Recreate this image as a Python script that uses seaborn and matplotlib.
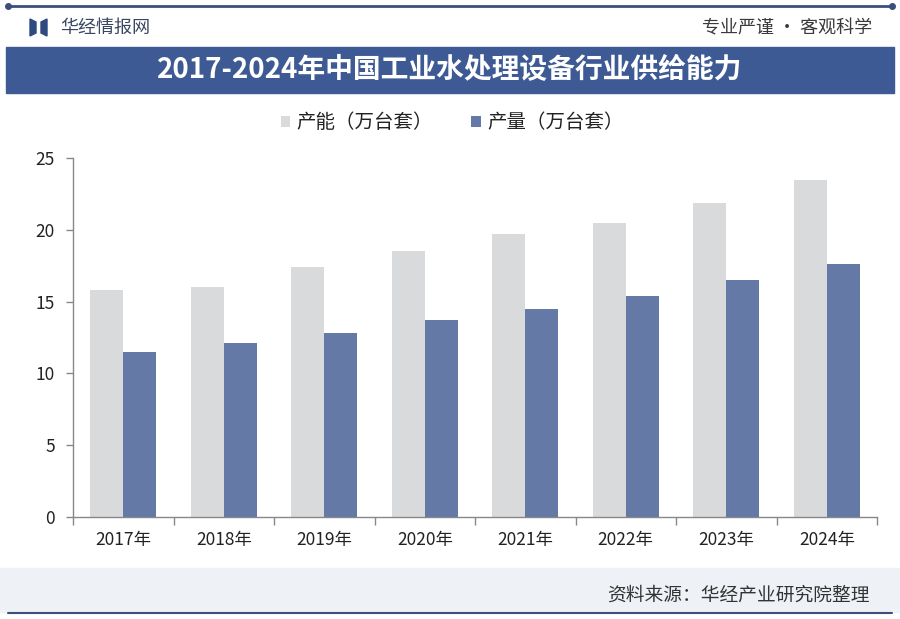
import numpy as np
import pandas as pd
import seaborn as sns
import matplotlib.pyplot as plt
from matplotlib.patches import Rectangle, Polygon
from matplotlib.lines import Line2D

years = ["2017年", "2018年", "2019年", "2020年", "2021年", "2022年", "2023年", "2024年"]
capacity = [15.8, 16.0, 17.4, 18.5, 19.7, 20.5, 21.9, 23.5]
output = [11.5, 12.1, 12.8, 13.7, 14.5, 15.4, 16.5, 17.6]
series_names = ["产能（万台套）", "产量（万台套）"]
colors = ["#d9dadc", "#6479a5"]

sns.set_theme(style="white")
plt.rcParams['font.family'] = ['Noto Sans CJK SC', 'DejaVu Sans']

df = pd.DataFrame({
    "year": years * 2,
    "value": capacity + output,
    "series": [series_names[0]] * len(years) + [series_names[1]] * len(years),
})

W, H = 900, 619
fig = plt.figure(figsize=(9, 6.19), dpi=100)
fig.patch.set_facecolor("white")


def fx(px):
    return px / W


def fy(py):
    return 1 - py / H


# top thin line with end dots
fig.add_artist(Line2D([fx(8), fx(892)], [fy(6), fy(6)], color="#3b4f7a", lw=2))
for xx in (8, 892):
    fig.add_artist(Line2D([fx(xx)], [fy(6)], marker="o", ms=4, color="#3b4f7a"))

# logo + header texts
fig.add_artist(Polygon([[fx(30), fy(19)], [fx(36), fy(22)], [fx(36), fy(33)], [fx(30), fy(36)]],
                       closed=True, color="#2f4a7f", transform=fig.transFigure))
fig.add_artist(Polygon([[fx(47), fy(19)], [fx(41), fy(22)], [fx(41), fy(33)], [fx(47), fy(36)]],
                       closed=True, color="#2f4a7f", transform=fig.transFigure))
fig.text(fx(60), fy(28), "华经情报网", fontsize=13, color="#3a4660", va="center", ha="left")
fig.text(fx(872), fy(28), "专业严谨 • 客观科学", fontsize=13, color="#3a3a3a", va="center", ha="right")

# title banner
fig.add_artist(Rectangle((fx(6), fy(93)), fx(888), 46 / H, color="#3e5a94",
                         transform=fig.transFigure, zorder=0))
fig.text(0.5, fy(70), "2017-2024年中国工业水处理设备行业供给能力", fontsize=20,
         fontweight="bold", color="white", ha="center", va="center")

# footer band
fig.add_artist(Rectangle((fx(0), fy(612)), 1, 44 / H, color="#eef1f6",
                         transform=fig.transFigure, zorder=0))
fig.add_artist(Line2D([fx(8), fx(892)], [fy(613), fy(613)], color="#3b4f7a", lw=1.5))
fig.text(fx(870), fy(595), "资料来源：华经产业研究院整理", fontsize=13.5, color="#333333",
         ha="right", va="center")

# main chart
ax = fig.add_axes([fx(73), fy(517), fx(804), 359 / H])
sns.barplot(data=df, x="year", y="value", hue="series", palette=colors, saturation=1,
            width=0.66, gap=0, linewidth=0, ax=ax, legend=True)

ax.set_ylim(0, 25)
ax.set_xlim(-0.5, len(years) - 0.5)
ax.set_yticks([0, 5, 10, 15, 20, 25])
ax.set_xlabel("")
ax.set_ylabel("")
ax.set_xticks(range(len(years)))
ax.set_xticklabels(years)
ax.set_xticks(np.arange(-0.5, len(years), 1.0), minor=True)
ax.tick_params(axis="x", which="major", length=0, labelsize=12.5, labelcolor="#222222", pad=10)
ax.tick_params(axis="x", which="minor", length=6, width=1, color="#888888", direction="out", bottom=True)
ax.tick_params(axis="y", length=5, width=1, color="#888888", direction="out", left=True,
               labelsize=12.5, labelcolor="#222222", pad=8)
for side in ("top", "right"):
    ax.spines[side].set_visible(False)
for side in ("left", "bottom"):
    ax.spines[side].set_color("#888888")
    ax.spines[side].set_linewidth(1)
ax.set_facecolor("none")

leg = ax.legend(loc="center", ncol=2, frameon=False, fontsize=14, handlelength=0.5,
                handleheight=0.5, handletextpad=0.3, columnspacing=2.0)
leg.set_bbox_to_anchor((fx(452), fy(123)), transform=fig.transFigure)
for t in leg.get_texts():
    t.set_color("#222222")

fig.savefig("out.png", dpi=100)
